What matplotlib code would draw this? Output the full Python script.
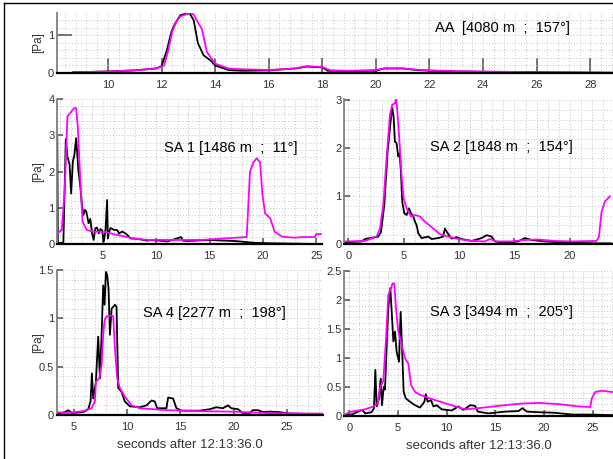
import numpy as np
import matplotlib
matplotlib.use('Agg')
import matplotlib.pyplot as plt
from matplotlib.ticker import MultipleLocator, FormatStrFormatter
from matplotlib.lines import Line2D

plt.rcParams['font.family'] = ['Liberation Sans Narrow', 'Liberation Sans', 'DejaVu Sans']

# ---- AA station ----
aa_t_blk = [8.7, 10.0, 11.0, 11.8, 12.0, 12.2, 12.37, 12.5, 12.7, 12.9, 13.05, 13.2, 13.36,
            13.57, 13.87, 14.0, 14.5, 15.0, 16.0, 17.0, 17.4, 18.0, 18.2, 19.0, 20.0, 20.3,
            21.0, 21.5, 22.0, 23.0, 24.0, 26.0, 28.0, 28.8]
aa_p_blk = [0.02, 0.04, 0.07, 0.12, 0.18, 0.6, 1.09, 1.3, 1.53, 1.57, 1.58, 1.4, 0.79,
            0.47, 0.31, 0.2, 0.08, 0.06, 0.07, 0.12, 0.17, 0.15, 0.06, 0.05, 0.06, 0.12,
            0.12, 0.08, 0.06, 0.04, 0.03, 0.02, 0.01, 0.01]
aa_t_mag = [8.7, 10.0, 11.0, 11.8, 12.1, 12.25, 12.4, 12.55, 12.7, 12.9, 13.05, 13.2, 13.35,
            13.5, 13.7, 14.0, 14.5, 15.0, 16.0, 17.0, 17.4, 18.0, 18.3, 19.0, 20.0, 20.3,
            21.0, 21.5, 22.0, 23.0, 24.0, 26.0, 28.4]
aa_p_mag = [0.02, 0.04, 0.07, 0.12, 0.2, 0.6, 1.1, 1.35, 1.5, 1.55, 1.6, 1.55, 1.35,
            1.18, 0.55, 0.25, 0.12, 0.1, 0.08, 0.12, 0.18, 0.16, 0.07, 0.06, 0.08, 0.12,
            0.12, 0.09, 0.07, 0.05, 0.04, 0.02, 0.01]

# ---- SA 1 ----
sa1_t_blk = [0.7, 0.75, 1.0, 1.27, 1.5, 1.65, 1.85, 2.0, 2.16, 2.3, 2.47, 2.69, 2.85, 3.01,
             3.16, 3.3, 3.42, 3.64, 3.8, 3.96, 4.11, 4.27, 4.43, 4.6, 4.75, 4.9, 5.06,
             5.22, 5.38, 5.44, 5.53, 5.69, 6.0, 6.32, 6.5, 6.8, 7.1, 7.27, 7.59, 8.22,
             9.17, 9.48, 11.06, 12.32, 12.5, 12.95, 14.84, 17.37, 19.26, 20.53, 24.63, 25.5]
sa1_p_blk = [2.95, 0.05, 0.03, 0.05, 2.9, 2.41, 2.2, 1.4, 2.28, 2.45, 2.92, 2.0, 1.63, 1.08,
             0.81, 0.95, 0.9, 0.58, 0.7, 0.3, 0.12, 0.44, 0.46, 0.3, 0.42, 0.39, 0.07,
             0.38, 1.22, 0.16, 0.3, 0.45, 0.4, 0.39, 0.3, 0.35, 0.3, 0.26, 0.16, 0.15,
             0.1, 0.12, 0.08, 0.2, 0.1, 0.09, 0.12, 0.09, 0.04, 0.03, 0.01, 0.01]
sa1_t_mag = [0.7, 1.11, 1.4, 1.65, 2.06, 2.28, 2.47, 2.63, 2.85, 3.07, 3.48, 4.11, 5.06,
             6.0, 6.96, 7.9, 9.17, 11.06, 14.21, 17.37, 18.48, 18.79, 19.1, 19.42, 19.74,
             19.96, 20.21, 20.68, 21.1, 21.79, 23.05, 23.68, 24.9, 25.0, 25.5]
sa1_p_mag = [0.3, 0.39, 1.5, 3.52, 3.67, 3.75, 3.75, 3.2, 1.82, 0.62, 0.39, 0.35, 0.35,
             0.28, 0.22, 0.16, 0.12, 0.12, 0.12, 0.18, 0.2, 2.0, 2.25, 2.37, 2.25,
             1.36, 0.85, 0.72, 0.35, 0.21, 0.18, 0.2, 0.2, 0.28, 0.28]

# ---- SA 2 ----
sa2_t_blk = [-0.3, 1.21, 1.51, 2.71, 2.95, 3.25, 3.55, 3.82, 3.97, 4.09, 4.21, 4.36, 4.51,
             4.63, 4.75, 4.87, 5.05, 5.27, 5.48, 5.66, 5.87, 6.02, 6.17, 6.32, 6.62, 7.22,
             7.52, 8.12, 8.57, 8.72, 8.97, 9.33, 9.78, 10.23, 11.14, 12.04, 12.49, 12.94,
             13.24, 14.14, 15.34, 15.95, 16.55, 17.75, 20.16, 22.56, 23.71]
sa2_p_blk = [0.04, 0.06, 0.11, 0.16, 0.26, 0.82, 1.93, 2.56, 2.84, 2.67, 2.14, 2.11, 1.83,
             1.9, 1.52, 0.89, 0.65, 0.61, 0.75, 0.65, 0.58, 0.47, 0.4, 0.23, 0.13, 0.16,
             0.11, 0.13, 0.16, 0.33, 0.23, 0.12, 0.15, 0.11, 0.07, 0.13, 0.19, 0.16,
             0.06, 0.03, 0.06, 0.13, 0.09, 0.06, 0.03, 0.02, 0.02]
sa2_t_mag = [-0.3, 1.51, 2.56, 2.86, 3.16, 3.46, 3.76, 3.97, 4.21, 4.33, 4.45, 4.6, 4.81,
             4.99, 5.27, 5.66, 6.02, 6.47, 6.92, 7.67, 8.28, 9.03, 9.93, 11.14, 12.34,
             12.79, 13.39, 14.75, 15.95, 17.15, 18.66, 20.16, 22.42, 22.63, 22.87, 23.17, 23.62]
sa2_p_mag = [0.06, 0.07, 0.16, 0.33, 0.82, 1.8, 2.7, 2.91, 2.94, 3.05, 2.7, 2.21, 1.45,
             0.96, 0.75, 0.58, 0.61, 0.58, 0.47, 0.33, 0.21, 0.16, 0.11, 0.07, 0.06,
             0.11, 0.06, 0.06, 0.09, 0.1, 0.07, 0.06, 0.07, 0.16, 0.68, 0.89, 1.0]

# ---- SA 4 ----
sa4_t_blk = [3.43, 4.16, 4.47, 4.78, 5.87, 6.34, 6.56, 6.69, 6.81, 7.06, 7.28, 7.44, 7.6,
             7.75, 7.88, 8.0, 8.12, 8.25, 8.38, 8.54, 8.85, 9.0, 9.16, 9.47, 9.78, 10.25,
             11.19, 11.82, 12.29, 12.6, 12.82, 13.69, 13.85, 14.32, 14.63, 15.1, 16.82,
             17.76, 18.38, 19.0, 19.47, 19.79, 20.41, 20.88, 21.51, 21.82, 22.29, 22.76,
             23.39, 24.32, 25.26, 27.14, 28.4]
sa4_p_blk = [0.01, 0.03, 0.05, 0.02, 0.03, 0.06, 0.14, 0.43, 0.17, 0.34, 0.81, 0.38, 0.83,
             1.34, 1.14, 1.48, 1.45, 1.31, 0.83, 1.1, 1.14, 1.12, 0.28, 0.24, 0.14, 0.09,
             0.08, 0.1, 0.15, 0.14, 0.07, 0.07, 0.18, 0.17, 0.07, 0.045, 0.045,
             0.06, 0.08, 0.07, 0.1, 0.07, 0.06, 0.02, 0.02, 0.05, 0.05, 0.03,
             0.035, 0.03, 0.015, 0.01, 0.01]
sa4_t_mag = [3.43, 4.31, 5.87, 6.66, 6.97, 7.06, 7.38, 7.6, 7.75, 7.88, 8.06, 8.54, 8.69,
             8.85, 9.06, 9.31, 9.78, 10.41, 11.19, 13.69, 16.82, 19.94, 23.07, 27.14, 28.4]
sa4_p_mag = [0.03, 0.02, 0.04, 0.07, 0.14, 0.34, 0.38, 0.52, 0.83, 0.98, 1.02, 1.03, 1.02,
             0.69, 0.38, 0.28, 0.19, 0.1, 0.07, 0.05, 0.04, 0.035, 0.02, 0.015, 0.015]

# ---- SA 3 ----
sa3_t_blk = [-0.51, 0.24, 0.93, 1.34, 1.62, 2.3, 2.54, 2.68, 2.82, 3.06, 3.23, 3.36, 3.54,
             3.67, 3.85, 4.01, 4.22, 4.42, 4.53, 4.7, 4.87, 5.11, 5.28, 5.45, 5.59, 5.8,
             6.24, 6.76, 7.27, 7.72, 7.86, 8.06, 8.4, 8.64, 8.99, 9.5, 10.53, 11.21, 11.73,
             12.42, 12.93, 13.21, 14.3, 16.02, 17.39, 17.8, 18.25, 19.44, 21.16, 22.88,
             24.59, 26.92, 27.1]
sa3_p_blk = [0.02, 0.02, 0.07, 0.1, 0.04, 0.06, 0.13, 0.79, 0.16, 0.3, 0.64, 0.18, 0.5,
             0.45, 1.22, 1.85, 2.2, 1.62, 1.28, 1.45, 1.1, 0.93, 1.79, 1.05, 0.41, 0.3,
             0.24, 0.18, 0.14, 0.24, 0.37, 0.24, 0.27, 0.16, 0.18, 0.11, 0.09, 0.16, 0.1,
             0.18, 0.17, 0.07, 0.04, 0.07, 0.08, 0.13, 0.07, 0.06, 0.05, 0.02,
             0.02, 0.01, 0.01]
sa3_t_mag = [-0.51, 0.24, 1.62, 2.47, 2.92, 3.16, 3.5, 3.78, 4.01, 4.29, 4.46, 4.63, 4.8,
             5.04, 5.39, 5.73, 6.07, 6.35, 6.76, 7.27, 8.13, 9.16, 10.53, 11.9, 13.27,
             15.33, 17.74, 19.44, 21.5, 23.56, 24.76, 24.93, 25.28, 25.97, 26.92, 27.1]
sa3_p_mag = [0.02, 0.07, 0.11, 0.16, 0.21, 0.47, 0.61, 1.33, 2.08, 2.2, 2.28, 2.28, 1.85,
             1.45, 1.22, 0.99, 0.9, 0.53, 0.41, 0.36, 0.31, 0.25, 0.18, 0.11, 0.13,
             0.17, 0.21, 0.22, 0.2, 0.16, 0.15, 0.3, 0.41, 0.43, 0.41, 0.41]

labels = ['AA  [4080 m  ;  157°]', 'SA 1 [1486 m  ;  11°]', 'SA 2 [1848 m  ;  154°]',
          'SA 4 [2277 m  ;  198°]', 'SA 3 [3494 m  ;  205°]']

W, H = 613, 459
fig = plt.figure(figsize=(W / 100, H / 100), dpi=100)


def px_axes(l, t, r, b):
    return fig.add_axes([l / W, 1 - b / H, (r - l) / W, (b - t) / H])


def style(ax, xlim, ylim, xmaj, xmin, ymaj, ymin, ticklen):
    ax.set_xlim(*xlim)
    ax.set_ylim(*ylim)
    ax.xaxis.set_major_locator(MultipleLocator(xmaj))
    ax.xaxis.set_minor_locator(MultipleLocator(xmin))
    ax.yaxis.set_major_locator(MultipleLocator(ymaj))
    ax.yaxis.set_minor_locator(MultipleLocator(ymin))
    ax.yaxis.set_major_formatter(FormatStrFormatter('%g'))
    ax.set_axisbelow(True)
    ax.grid(which='both', color='#c4c4c4', ls=(0, (1, 2)), lw=0.7)
    ax.spines['top'].set_visible(False)
    ax.spines['right'].set_visible(False)
    ax.spines['left'].set_color('#808080')
    ax.spines['left'].set_linewidth(1.3)
    ax.spines['bottom'].set_color('black')
    ax.spines['bottom'].set_linewidth(1.6)
    ax.tick_params(which='major', direction='in', length=ticklen, width=1.1,
                   color='#505050', labelsize=8, labelcolor='#333333')
    ax.tick_params(axis='x', pad=5)
    ax.tick_params(axis='y', pad=2)
    ax.tick_params(which='minor', length=0)


lc = dict(color='black', lw=1.3)
mc = dict(color='#ff00ff', lw=1.3)

ax0 = px_axes(57, 13, 613, 73)
ax0.plot(aa_t_blk, aa_p_blk, **lc)
ax0.plot(aa_t_mag, aa_p_mag, **mc)
style(ax0, (8.1, 28.85), (0, 1.59), 2, 0.4, 1, 0.2, 11)
ax0.text(0.923, 0.75, labels[0], transform=ax0.transAxes, ha='right', va='center', fontsize=10.5)
ax0.set_ylabel('[Pa]', fontsize=8.5, color='#333333')
ax0.yaxis.set_label_coords(-0.023, 0.5)

ax1 = px_axes(57.3, 99, 322, 244.3)
ax1.plot(sa1_t_blk, sa1_p_blk, **lc)
ax1.plot(sa1_t_mag, sa1_p_mag, **mc)
style(ax1, (0.7, 25.55), (0, 4), 5, 1, 1, 0.2, 4)
ax1.text(0.909, 0.663, labels[1], transform=ax1.transAxes, ha='right', va='center', fontsize=10.5)
ax1.set_ylabel('[Pa]', fontsize=8.5, color='#333333')
ax1.yaxis.set_label_coords(-0.05, 0.5)

ax2 = px_axes(344.3, 99, 613, 244.3)
ax2.plot(sa2_t_blk, sa2_p_blk, **lc)
ax2.plot(sa2_t_mag, sa2_p_mag, **mc)
style(ax2, (-0.36, 23.9), (0, 3.03), 5, 1, 1, 0.2, 4)
ax2.text(0.851, 0.67, labels[2], transform=ax2.transAxes, ha='right', va='center', fontsize=10.5)

ax3 = px_axes(56.7, 270, 323, 415)
ax3.plot(sa4_t_blk, sa4_p_blk, **lc)
ax3.plot(sa4_t_mag, sa4_p_mag, **mc)
style(ax3, (3.38, 28.4), (0, 1.5), 5, 1, 0.5, 0.1, 4)
ax3.text(0.861, 0.703, labels[3], transform=ax3.transAxes, ha='right', va='center', fontsize=10.5)
ax3.set_ylabel('[Pa]', fontsize=8.5, color='#333333')
ax3.yaxis.set_label_coords(-0.048, 0.5)
ax3.set_xlabel('seconds after 12:13:36.0', fontsize=9.5, labelpad=5, color='#333333')

ax4 = px_axes(344.3, 270.7, 613, 415.7)
ax4.plot(sa3_t_blk, sa3_p_blk, **lc)
ax4.plot(sa3_t_mag, sa3_p_mag, **mc)
style(ax4, (-0.51, 27.1), (0, 2.5), 5, 1, 0.5, 0.1, 4)
ax4.text(0.851, 0.715, labels[4], transform=ax4.transAxes, ha='right', va='center', fontsize=10.5)
ax4.set_xlabel('seconds after 12:13:36.0', fontsize=9.5, labelpad=5, color='#333333')

# outer frame (left and top edges visible in the crop)
fig.add_artist(Line2D([4 / W, 4 / W], [0, 1 - 3 / H], color='black', lw=1.0))
fig.add_artist(Line2D([4 / W, 1], [1 - 3 / H, 1 - 3 / H], color='black', lw=1.0))

fig.savefig('out.png', dpi=100)
